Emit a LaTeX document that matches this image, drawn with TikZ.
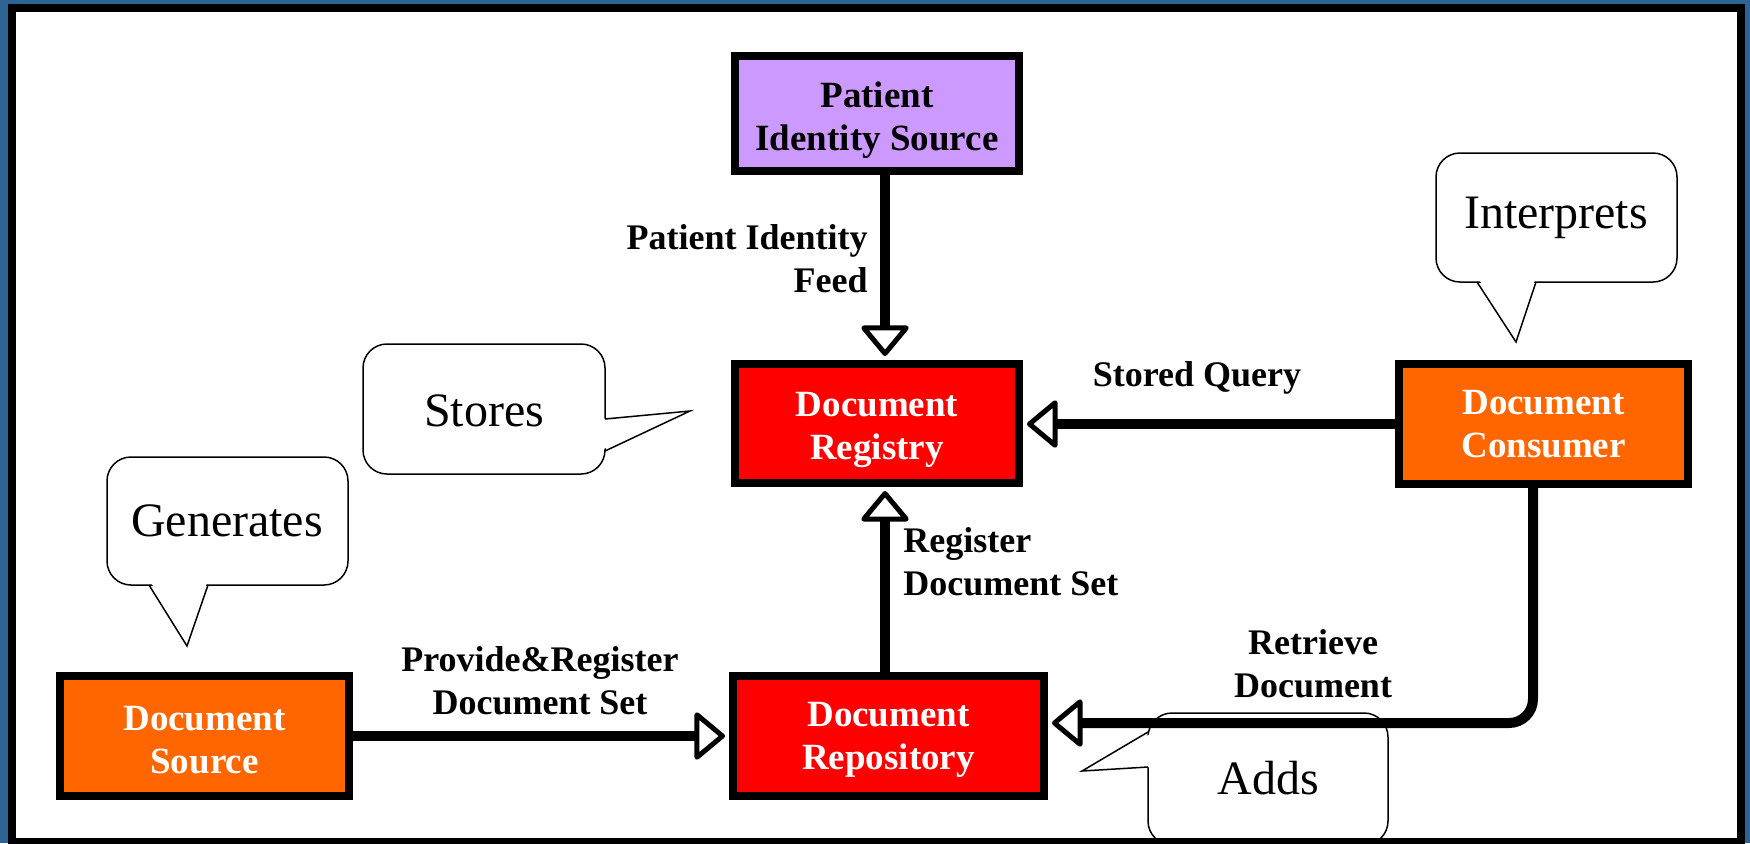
\documentclass[tikz,border=0pt]{standalone}
\usepackage{fontspec}
\setmainfont{Liberation Serif}
\usetikzlibrary{arrows.meta}
\definecolor{framebl}{HTML}{2E6396}
\definecolor{pisc}{HTML}{CC99FF}
\definecolor{regc}{HTML}{FF0000}
\definecolor{orc}{HTML}{FF6600}
\newcommand{\boxstrut}{\rule{0pt}{19pt}}
\newcommand{\boxstrutb}{\rule{0pt}{16pt}}
\begin{document}
\begin{tikzpicture}[x=0.5pt,y=-0.5pt,
  actor/.style={draw=black, line width=4pt, inner sep=0pt, align=center, text=white,
    font=\bfseries\fontsize{18.5}{21.5}\selectfont},
  lbl/.style={inner sep=0pt, font=\bfseries\fontsize{18}{21.5}\selectfont},
  flow/.style={line width=5pt, -{Triangle[open, round, length=16pt, width=26pt, line width=2.5pt]}, shorten >=2pt},
  callout/.style={draw=black, line width=0.75pt, fill=white, rounded corners=12pt},
  ptr/.style={draw=black, line width=0.75pt, line join=miter},
  ctext/.style={inner sep=0pt, font=\fontsize{24}{28}\selectfont},
]
\useasboundingbox (0,0) rectangle (1750,843);
\fill[framebl] (0,0) rectangle (1750,843);
\fill[white] (16,12) rectangle (1737,838);

% callouts
\draw[callout] (1436,153) rectangle (1677,282);
\fill[white] (1477,276) -- (1516,342) -- (1536,276) -- cycle;
\draw[ptr] (1477,282) -- (1516,342) -- (1536,282);
\node[ctext] (interp) at (1556,218) {Interprets};

\draw[callout] (363,344) rectangle (605,474);
\fill[white] (599,419) -- (690,411) -- (599,451) -- cycle;
\draw[ptr] (605,419) -- (690,411) -- (605,451);
\node[ctext] (stores) at (484,411) {Stores};

\draw[callout] (107,457) rectangle (348,585);
\fill[white] (149,579) -- (187,646) -- (208,579) -- cycle;
\draw[ptr] (149,585) -- (187,646) -- (208,585);
\node[ctext] (gener) at (227,521) {Generates};

\draw[callout] (1148,713) rectangle (1388,845);
\fill[white] (1154,732) -- (1082,771) -- (1154,767) -- cycle;
\draw[ptr] (1148,732) -- (1082,771) -- (1148,767);
\node[ctext] (adds) at (1268,778) {Adds};

% boxes
\node[actor, fill=pisc, text=black, minimum width=142pt, minimum height=57.5pt] (pis) at (877,113.5) {\boxstrut Patient\\Identity Source};
\node[actor, fill=regc, minimum width=142pt, minimum height=59.5pt] (reg) at (877,423.5) {\boxstrut Document\\Registry};
\node[actor, fill=regc, minimum width=155.5pt, minimum height=60pt] (repo) at (888.5,736) {\boxstrutb Document\\Repository};
\node[actor, fill=orc, minimum width=144.5pt, minimum height=60pt] (cons) at (1543.5,424) {Document\\Consumer};
\node[actor, fill=orc, minimum width=144.5pt, minimum height=60pt] (src) at (204.5,736) {\boxstrutb Document\\Source};

% connectors
\coordinate (fx) at (885,0);
\coordinate (rc) at (1533,0);
\coordinate (ry) at (0,723);
\draw[flow] (pis.south -| fx) -- (reg.north -| fx);
\draw[flow] (repo.north -| fx) -- (reg.south -| fx);
\draw[flow] (cons.west) -- (reg.east |- cons.west);
\draw[flow] (src.east) -- (repo.west |- src.east);
\draw[flow, rounded corners=12pt] (cons.south -| rc) -- (rc |- ry) -- (repo.east |- ry);

% labels
\node[lbl, anchor=east, align=right] (lfeed) at (868,259) {Patient Identity\\Feed};
\node[lbl] (lsq) at (1197,378) {Stored Query};
\node[lbl, anchor=west, align=left] (lreg) at (903,562) {Register\\Document Set};
\node[lbl, align=center] (lprov) at (540,681) {Provide\&Register\\Document Set};
\node[lbl, align=center] (lret) at (1313,664) {Retrieve\\Document};

% frame border
\draw[black, line width=4pt] (12,8) rectangle (1741,842);
\end{tikzpicture}
\end{document}
